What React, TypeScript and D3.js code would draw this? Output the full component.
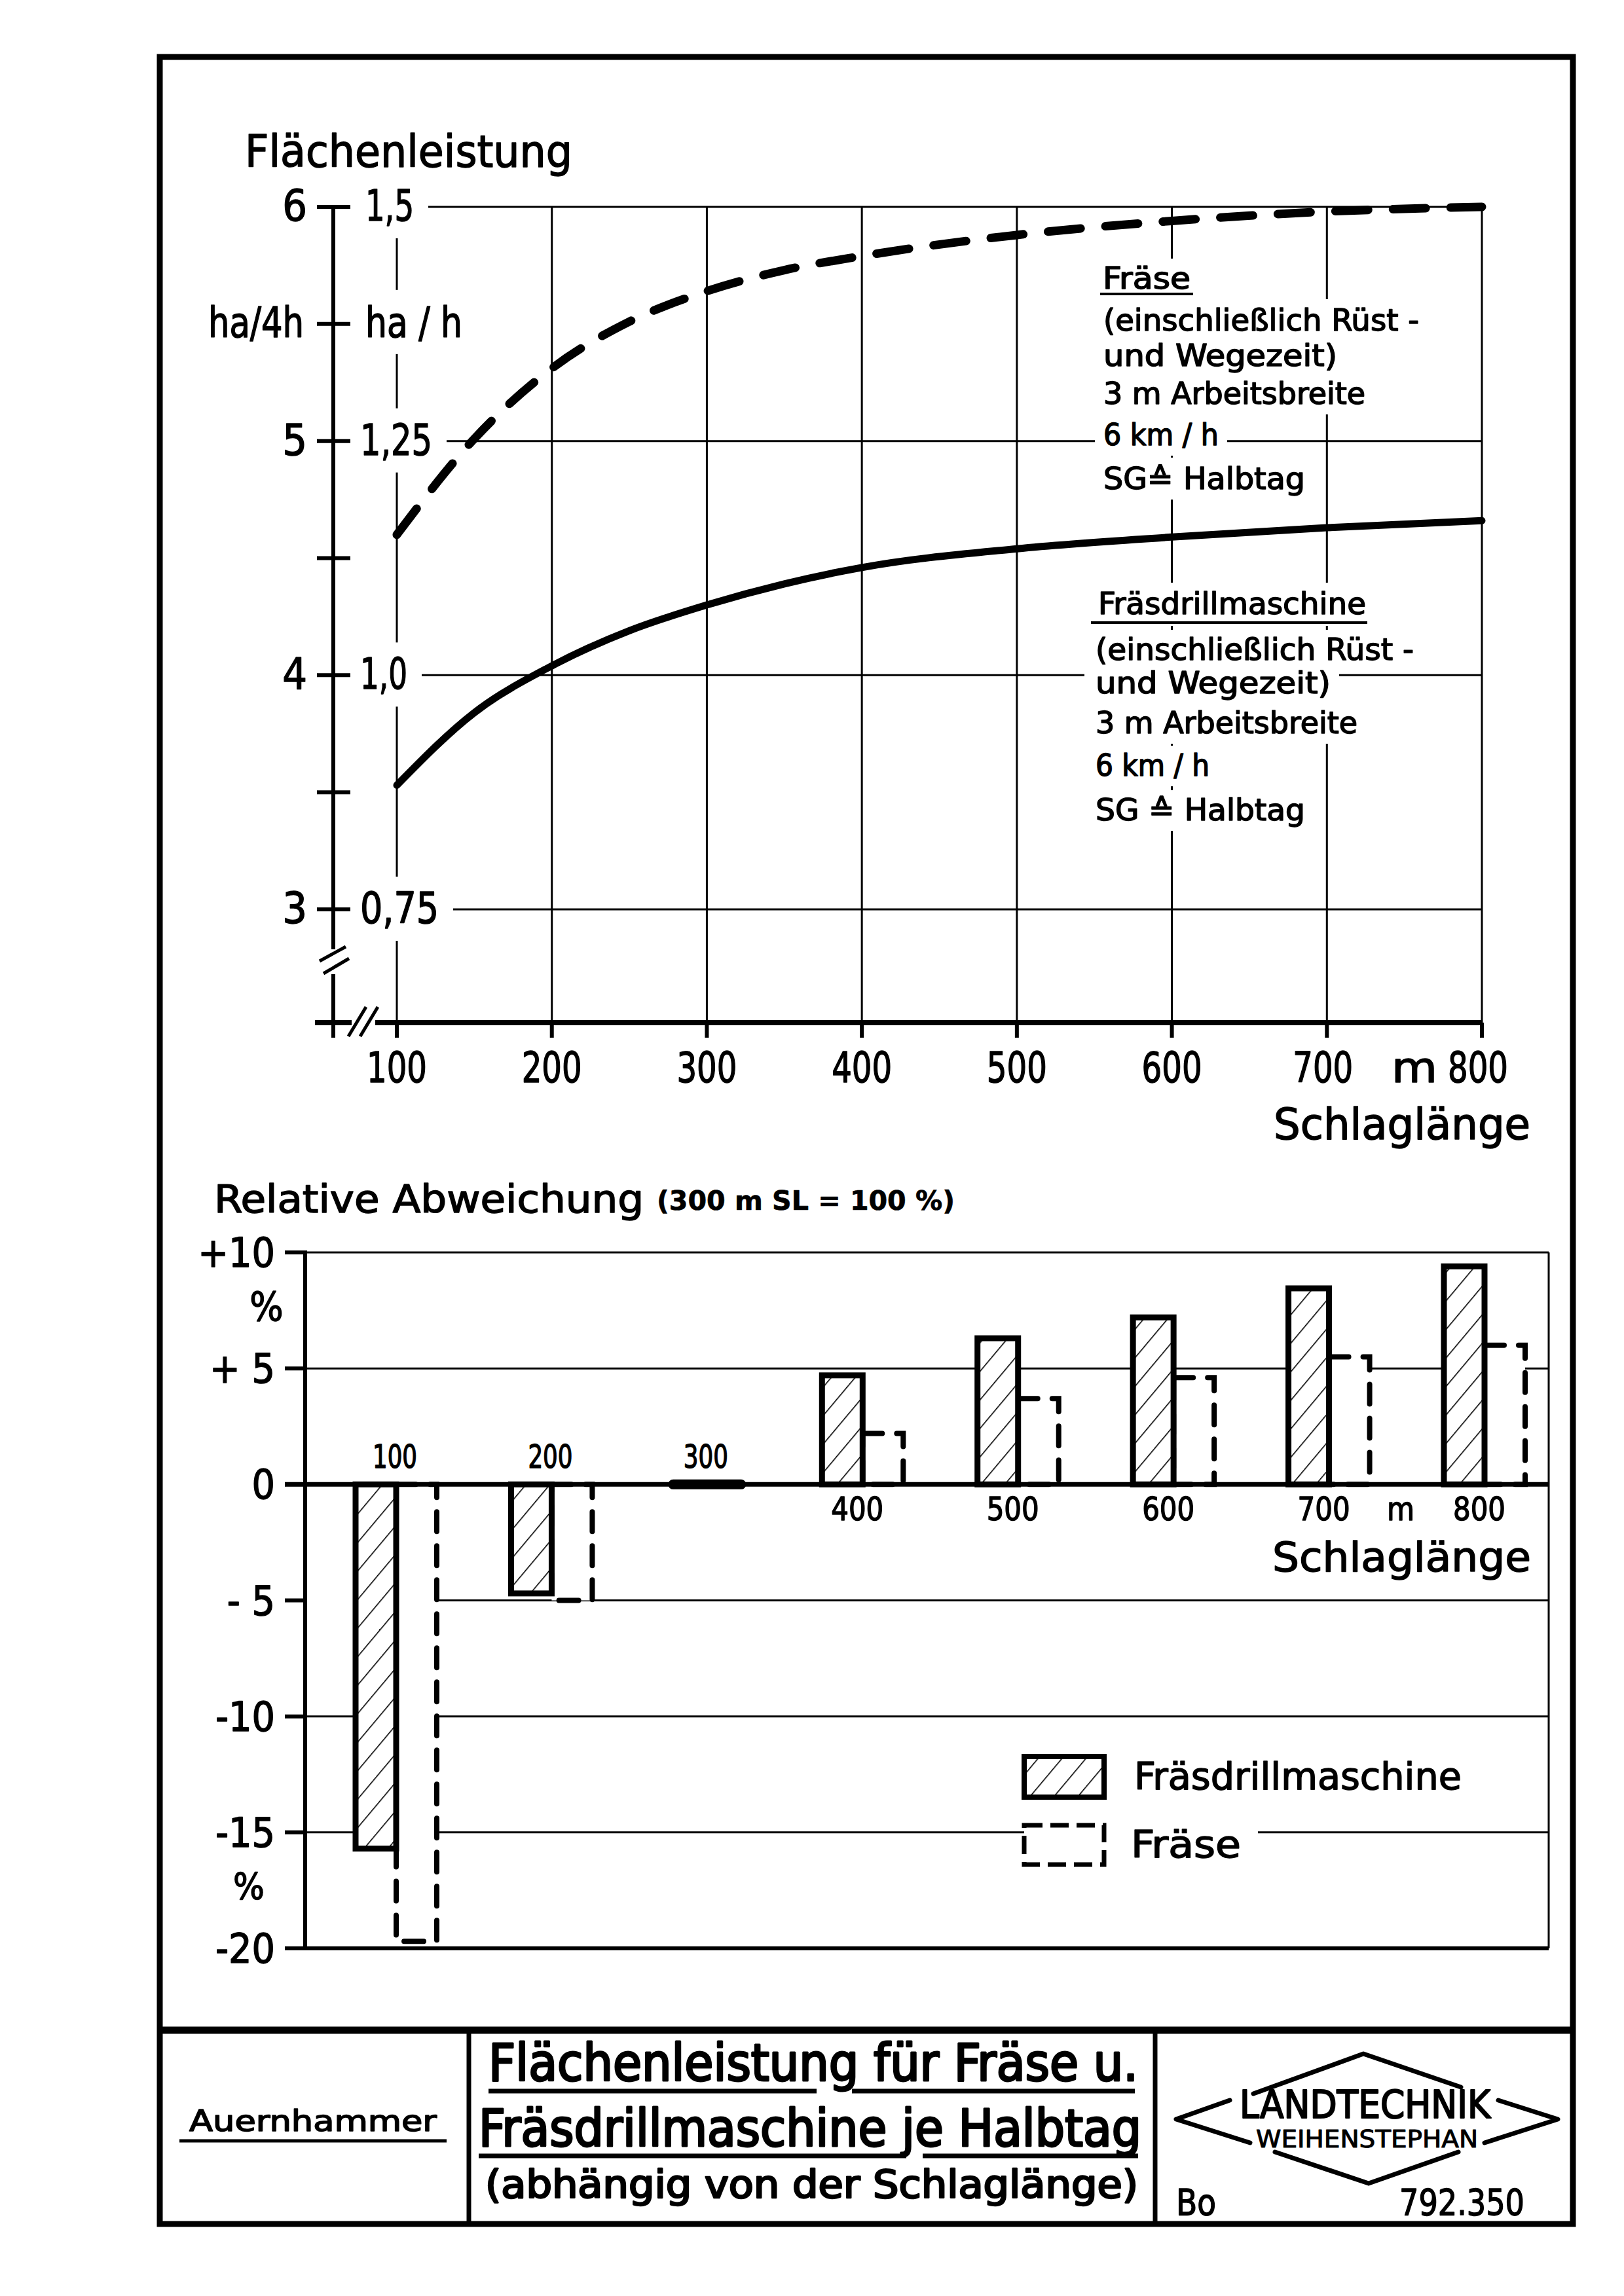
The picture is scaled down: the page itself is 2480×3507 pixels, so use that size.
import React from 'react';
import * as d3 from 'd3';

// ---------- data ----------
const schlaglaenge = [100, 150, 200, 250, 300, 350, 400, 500, 600, 700, 800];
const fraeseHa4h = [4.6, 5.01, 5.31, 5.51, 5.64, 5.73, 5.79, 5.88, 5.94, 5.98, 6.0];
const fraesdrillHa4h = [3.53, 3.84, 4.04, 4.19, 4.3, 4.39, 4.46, 4.54, 4.59, 4.63, 4.66];

const xTickValues = [100, 200, 300, 400, 500, 600, 700, 800];
const yTicksHa4h = [3, 4, 5, 6];
const yMinorHa4h = [3.5, 4.5, 5.5];
const yValuesHaH = [0.75, 1.0, 1.25, 1.5];
const yLabelsHaH = ['0,75', '1,0', '1,25', '1,5'];

const barLengths = [100, 200, 300, 400, 500, 600, 700, 800];
const devFraesdrill = [-15.7, -4.7, 0, 4.7, 6.3, 7.2, 8.45, 9.4];
const devFraese = [-19.7, -5.0, 0, 2.2, 3.7, 4.6, 5.5, 6.0];
const relTicks = [10, 5, 0, -5, -10, -15, -20];
const relTickLabels = ['+10', '+ 5', '0', '- 5', '-10', '-15', '-20'];

const annoFraese = ['(einschließlich Rüst -', 'und  Wegezeit)', '3 m  Arbeitsbreite', '6 km / h', 'SG≙ Halbtag'];
const annoDrill = ['(einschließlich Rüst -', 'und  Wegezeit)', '3 m  Arbeitsbreite', '6 km / h', 'SG ≙ Halbtag'];

const FONT = "'DejaVu Sans Condensed','DejaVu Sans',sans-serif";

// ---------- scales ----------
const xTop = d3.scaleLinear().domain([100, 800]).range([606, 2263]);
const yTop = d3.scaleLinear().domain([3, 6]).range([1389, 316]);
const yTopH = d3.scaleLinear().domain([0.75, 1.5]).range([1389, 316]);
const xBot = d3.scaleLinear().domain([100, 800]).range([605, 2267]);
const yBot = d3.scaleLinear().domain([-20, 10]).range([2976, 1913]);
const BW = 62;

const curve = d3
  .line<number>()
  .x((_, i) => xTop(schlaglaenge[i]))
  .y((d) => yTop(d))
  .curve(d3.curveMonotoneX);

type TP = { x: number; y: number; s: number; w?: number; a?: string; b?: boolean; sw?: number; children: React.ReactNode };
const T = ({ x, y, s, w, a = 'start', b, sw = 1.4, children }: TP) => (
  <text
    x={x}
    y={y}
    fontSize={s}
    textAnchor={a as any}
    textLength={w}
    lengthAdjust={w ? 'spacingAndGlyphs' : undefined}
    fontWeight={b ? 'bold' : 'normal'}
    fill="#000"
    stroke="#000"
    strokeWidth={sw}
    strokeLinejoin="round"
  >
    {children}
  </text>
);

export default function App() {
  const annoWidthsF = [482, 357, 400, 176, 308];
  const annoWidthsD = [486, 359, 400, 174, 320];
  const baseF = [505, 559, 617, 680, 747];
  const baseD = [1008, 1059, 1120, 1185, 1253];
  const haHX = [550, 550, 550, 558];
  const haHW = [120, 72, 110, 74];

  return (
    <svg
      width={2480}
      height={3507}
      viewBox="0 0 2480 3507"
      style={{ position: 'absolute', left: 0, top: 0, background: '#fff' }}
      fontFamily={FONT}
    >
      <defs>
        <pattern id="hatch" patternUnits="userSpaceOnUse" width="28" height="28" patternTransform="rotate(40)">
          <line x1="0" y1="-2" x2="0" y2="30" stroke="#000" strokeWidth="3.2" />
        </pattern>
      </defs>
      <rect x={0} y={0} width={2480} height={3507} fill="#fff" />

      {/* ================= TOP CHART ================= */}
      {xTickValues.map((v) => (
        <line key={'vg' + v} x1={xTop(v)} x2={xTop(v)} y1={yTop(6)} y2={1562} stroke="#000" strokeWidth={3} />
      ))}
      {yTicksHa4h.map((v) => (
        <line key={'hg' + v} x1={xTop(100)} x2={xTop(800)} y1={yTop(v)} y2={yTop(v)} stroke="#000" strokeWidth={3} />
      ))}
      {yValuesHaH.map((v, i) => (
        <rect key={'hb' + i} x={540} y={yTopH(v) - 50} width={haHX[i] - 540 + haHW[i] + 22} height={98} fill="#fff" />
      ))}
      <rect x={540} y={yTop(5.5) - 52} width={190} height={98} fill="#fff" />
      <rect x={1672} y={395} width={160} height={62} fill="#fff" />
      {annoFraese.map((t, i) => (
        <rect key={'bf' + i} x={1672} y={baseF[i] - 48} width={annoWidthsF[i] + 26} height={64} fill="#fff" />
      ))}
      <rect x={1655} y={890} width={450} height={66} fill="#fff" />
      {annoDrill.map((t, i) => (
        <rect key={'bd' + i} x={1656} y={baseD[i] - 46} width={annoWidthsD[i] + 30} height={62} fill="#fff" />
      ))}

      {/* left axis */}
      <line x1={509} x2={509} y1={yTop(6)} y2={1450} stroke="#000" strokeWidth={6} />
      <line x1={509} x2={509} y1={1488} y2={1585} stroke="#000" strokeWidth={6} />
      {yTicksHa4h.concat(yMinorHa4h).map((v) => (
        <line key={'lt' + v} x1={484} x2={535} y1={yTop(v)} y2={yTop(v)} stroke="#000" strokeWidth={6} />
      ))}
      <line x1={488} y1={1468} x2={528} y2={1446} stroke="#000" strokeWidth={5} />
      <line x1={494} y1={1487} x2={533} y2={1464} stroke="#000" strokeWidth={5} />

      {/* x axis */}
      <line x1={481} x2={537} y1={1562} y2={1562} stroke="#000" strokeWidth={8} />
      <line x1={573} x2={xTop(800)} y1={1562} y2={1562} stroke="#000" strokeWidth={8} />
      <line x1={532} y1={1583} x2={559} y2={1538} stroke="#000" strokeWidth={5} />
      <line x1={550} y1={1583} x2={577} y2={1538} stroke="#000" strokeWidth={5} />
      {xTickValues.map((v) => (
        <line key={'xt' + v} x1={xTop(v)} x2={xTop(v)} y1={1562} y2={1585} stroke="#000" strokeWidth={6} />
      ))}

      {/* curves */}
      <path d={curve(fraeseHa4h) || ''} fill="none" stroke="#000" strokeWidth={13} strokeDasharray="50 38" strokeLinecap="round" />
      <path d={curve(fraesdrillHa4h) || ''} fill="none" stroke="#000" strokeWidth={11} strokeLinecap="round" />

      {/* texts top */}
      <T x={374} y={255} s={68} w={500}>Flächenleistung</T>
      {yTicksHa4h.map((v) => (
        <T key={'yl' + v} x={469} y={yTop(v) + 21} s={66} a="end">
          {String(v)}
        </T>
      ))}
      <T x={318} y={yTop(5.5) + 20} s={64} w={146}>ha/4h</T>
      <T x={558} y={yTop(5.5) + 20} s={64} w={148}>ha / h</T>
      {yLabelsHaH.map((l, i) => (
        <T key={'yh' + i} x={haHX[i]} y={yTopH(yValuesHaH[i]) + 21} s={66} w={haHW[i]}>
          {l}
        </T>
      ))}
      {xTickValues.map((v) => (
        <T key={'xl' + v} x={xTop(v) + (v >= 700 ? -6 : 0)} y={1653} s={64} w={92} a="middle">
          {String(v)}
        </T>
      ))}
      <T x={2160} y={1653} s={64} w={70} a="middle">m</T>
      <T x={1945} y={1740} s={66} w={392}>Schlaglänge</T>

      <T x={1684} y={441} s={46} w={134}>Fräse</T>
      <line x1={1680} x2={1822} y1={449} y2={449} stroke="#000" strokeWidth={4} />
      {annoFraese.map((t, i) => (
        <T key={'af' + i} x={1685} y={baseF[i]} s={46} w={annoWidthsF[i]}>
          {t}
        </T>
      ))}
      <T x={1677} y={938} s={46} w={409}>Fräsdrillmaschine</T>
      <line x1={1666} x2={2088} y1={951} y2={951} stroke="#000" strokeWidth={4} />
      {annoDrill.map((t, i) => (
        <T key={'ad' + i} x={1673} y={baseD[i]} s={46} w={annoWidthsD[i]}>
          {t}
        </T>
      ))}

      {/* ================= BOTTOM CHART ================= */}
      <T x={327} y={1852} s={58} w={656}>Relative Abweichung</T>
      <T x={1003} y={1848} s={40} w={455} b sw={0.6}>(300 m SL = 100 %)</T>

      {relTicks
        .filter((v) => v !== 0)
        .map((v) => (
          <line
            key={'rg' + v}
            x1={v === -5 ? xBot(100) + BW : 466}
            x2={2365}
            y1={yBot(v)}
            y2={yBot(v)}
            stroke="#000"
            strokeWidth={v === -20 ? 6 : 3}
          />
        ))}
      <line x1={2365} x2={2365} y1={yBot(10)} y2={yBot(-20)} stroke="#000" strokeWidth={3} />

      {/* bars: Fräse (dashed) */}
      {barLengths.map((L, i) => {
        const v = devFraese[i];
        if (v === 0) return null;
        const c = xBot(L);
        const y0 = yBot(0);
        const y1 = yBot(v);
        return (
          <rect
            key={'bf' + L}
            x={c}
            y={Math.min(y0, y1)}
            width={BW}
            height={Math.abs(y1 - y0)}
            fill="#fff"
            stroke="#000"
            strokeWidth={8}
            strokeDasharray="30 22"
            strokeLinecap="round"
          />
        );
      })}
      {/* bars: Fräsdrillmaschine (hatched) */}
      {barLengths.map((L, i) => {
        const v = devFraesdrill[i];
        if (v === 0) return null;
        const c = xBot(L);
        const y0 = yBot(0);
        const y1 = yBot(v);
        return (
          <g key={'bd' + L}>
            <rect x={c - BW} y={Math.min(y0, y1)} width={BW} height={Math.abs(y1 - y0)} fill="#fff" />
            <rect
              x={c - BW}
              y={Math.min(y0, y1)}
              width={BW}
              height={Math.abs(y1 - y0)}
              fill="url(#hatch)"
              stroke="#000"
              strokeWidth={9}
            />
          </g>
        );
      })}
      <line x1={435} x2={2365} y1={yBot(0)} y2={yBot(0)} stroke="#000" strokeWidth={7} />
      {barLengths.map((L, i) =>
        devFraesdrill[i] === 0 && devFraese[i] === 0 ? (
          <line key={'z' + L} x1={xBot(L) - 52} x2={xBot(L) + 52} y1={yBot(0)} y2={yBot(0)} stroke="#000" strokeWidth={15} strokeLinecap="round" />
        ) : null
      )}
      <line x1={466} x2={466} y1={yBot(10)} y2={yBot(-20)} stroke="#000" strokeWidth={6} />
      {relTicks.map((v) => (
        <line key={'rt' + v} x1={435} x2={469} y1={yBot(v)} y2={yBot(v)} stroke="#000" strokeWidth={6} />
      ))}
      {relTicks.map((v, i) => (
        <T key={'rl' + v} x={420} y={yBot(v) + 22} s={62} a="end">
          {relTickLabels[i]}
        </T>
      ))}
      <T x={407} y={2017} s={60} a="middle">%</T>
      <T x={380} y={2900} s={56} a="middle">%</T>

      {barLengths.map((L, i) =>
        devFraesdrill[i] <= 0 ? (
          <T key={'bl' + L} x={xBot(L) - 2} y={2242} s={50} w={68} a="middle">
            {String(L)}
          </T>
        ) : (
          <T key={'bl' + L} x={xBot(L) - 8} y={2322} s={50} w={80} a="middle">
            {String(L)}
          </T>
        )
      )}
      <T x={2139} y={2322} s={50} w={42} a="middle">m</T>
      <T x={1943} y={2400} s={62} w={395}>Schlaglänge</T>

      {/* legend */}
      <rect x={1564} y={2772} width={357} height={58} fill="#fff" />
      <rect x={1564} y={2683} width={122} height={62} fill="#fff" />
      <rect x={1564} y={2683} width={122} height={62} fill="url(#hatch)" stroke="#000" strokeWidth={8} />
      <rect x={1564} y={2788} width={122} height={60} fill="#fff" stroke="#000" strokeWidth={7} strokeDasharray="28 12" />
      <T x={1732} y={2733} s={57} w={500}>Fräsdrillmaschine</T>
      <T x={1727} y={2837} s={57} w={168}>Fräse</T>

      {/* ================= FRAME & TITLE BLOCK ================= */}
      <rect x={244} y={87} width={2158} height={3310} fill="none" stroke="#000" strokeWidth={9} />
      <line x1={244} x2={2402} y1={3101} y2={3101} stroke="#000" strokeWidth={11} />
      <line x1={716} x2={716} y1={3101} y2={3397} stroke="#000" strokeWidth={7} />
      <line x1={1764} x2={1764} y1={3101} y2={3397} stroke="#000" strokeWidth={7} />

      <T x={289} y={3255} s={44} w={378}>Auernhammer</T>
      <line x1={274} x2={682} y1={3270} y2={3270} stroke="#000" strokeWidth={5} />

      <T x={746} y={3178} s={78} w={992} sw={3}>Flächenleistung für Fräse u.</T>
      <line x1={746} x2={1247} y1={3194} y2={3194} stroke="#000" strokeWidth={7} />
      <line x1={1301} x2={1733} y1={3194} y2={3194} stroke="#000" strokeWidth={7} />
      <T x={731} y={3278} s={78} w={1012} sw={3}>Fräsdrillmaschine je Halbtag</T>
      <line x1={731} x2={1384} y1={3293} y2={3293} stroke="#000" strokeWidth={7} />
      <line x1={1409} x2={1738} y1={3293} y2={3293} stroke="#000" strokeWidth={7} />
      <T x={741} y={3357} s={58} w={997} sw={2.5}>(abhängig von der Schlaglänge)</T>

      {/* logo */}
      <g stroke="#000" strokeWidth={7} fill="none" strokeLinecap="round" strokeLinejoin="round">
        <polyline points="1914,3198 2082,3137 2231,3188" />
        <polyline points="1878,3208 1796,3237 1909,3273" />
        <polyline points="2288,3208 2379,3237 2267,3273" />
        <polyline points="1947,3287 2090,3335 2227,3287" />
      </g>
      <T x={1893} y={3235} s={58} w={383} sw={2}>LANDTECHNIK</T>
      <T x={1918} y={3280} s={38} w={339} sw={1}>WEIHENSTEPHAN</T>
      <T x={1796} y={3383} s={55} w={61}>Bo</T>
      <T x={2137} y={3383} s={55} w={191}>792.350</T>
    </svg>
  );
}
